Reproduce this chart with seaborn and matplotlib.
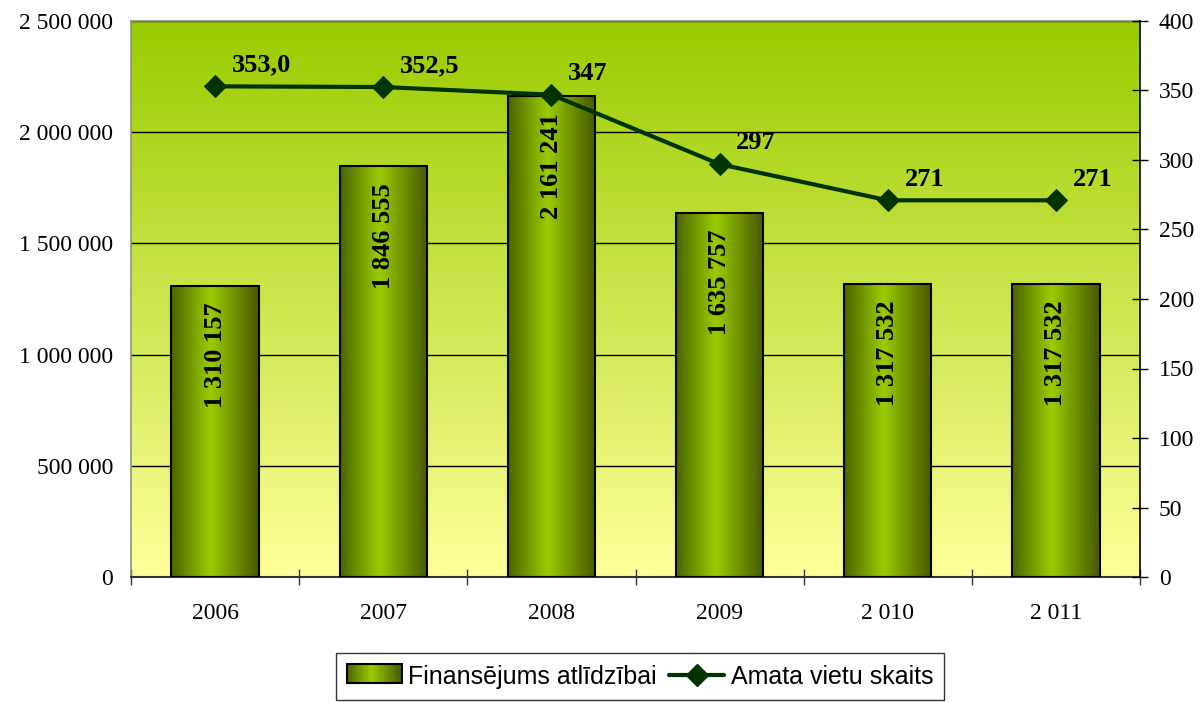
import numpy as np
import pandas as pd
import matplotlib
matplotlib.use('Agg')
import matplotlib.pyplot as plt
import seaborn as sns
from matplotlib.colors import LinearSegmentedColormap
from matplotlib.patches import Rectangle
from matplotlib.lines import Line2D
from matplotlib.legend_handler import HandlerBase


years = ['2006', '2007', '2008', '2009', '2 010', '2 011']
funding = [1310157, 1846555, 2161241, 1635757, 1317532, 1317532]
positions = [353.0, 352.5, 347, 297, 271, 271]
position_labels = ['353,0', '352,5', '347', '297', '271', '271']

left_ticks = [0, 500000, 1000000, 1500000, 2000000, 2500000]
right_ticks = [0, 50, 100, 150, 200, 250, 300, 350, 400]

df = pd.DataFrame({'year': years, 'funding': funding, 'positions': positions})


def spaced(v):
    return f'{v:,}'.replace(',', ' ')


bar_cmap = LinearSegmentedColormap.from_list(
    'bar', [(0, '#4a6400'), (0.45, '#9acc00'), (1, '#465800')])
bg_cmap = LinearSegmentedColormap.from_list('bg', ['#ffff99', '#99cc00'])

sns.set_style('white')
plt.rcParams['font.family'] = ['Liberation Serif', 'DejaVu Serif']
plt.rcParams['text.color'] = 'black'
plt.rcParams['xtick.color'] = 'black'
plt.rcParams['ytick.color'] = 'black'
plt.rcParams['xtick.labelcolor'] = 'black'
plt.rcParams['ytick.labelcolor'] = 'black'

fig = plt.figure(figsize=(12.02, 7.02), dpi=100)
ax = fig.add_axes([131 / 1202, 1 - 577 / 702, 1009 / 1202, 556 / 702])

# background gradient
grad = np.linspace(0, 1, 256).reshape(-1, 1)
ax.imshow(grad, extent=[0, 1, 0, 1], transform=ax.transAxes, aspect='auto',
          cmap=bg_cmap, origin='lower', zorder=0)

sns.barplot(data=df, x='year', y='funding', ax=ax, width=0.52, color='#88b000',
            zorder=2)

hgrad = np.linspace(0, 1, 256).reshape(1, -1)
for p in list(ax.patches):
    x0, y0 = p.get_xy()
    w, h = p.get_width(), p.get_height()
    im = ax.imshow(hgrad, extent=[x0, x0 + w, y0, y0 + h], aspect='auto',
                   cmap=bar_cmap, zorder=2)
    im.set_clip_path(p)
    p.set_facecolor('none')
    p.set_edgecolor('black')
    p.set_linewidth(1.5)
    p.set_zorder(3)

for i, v in enumerate(funding):
    ax.annotate(spaced(v), (i, v), xytext=(0, -12), textcoords='offset points',
                rotation=90, ha='center', va='top', fontsize=19,
                fontweight='bold', zorder=4)

ax.set_xlim(-0.5, 5.5)
ax.set_ylim(0, 2500000)
ax.set_yticks(left_ticks)
ax.set_yticklabels([spaced(t) for t in left_ticks])
ax.set_xticks(range(len(years)))
ax.set_xticklabels(years)
ax.set_xticks(np.arange(-0.5, 6, 1), minor=True)
ax.set_xlabel('')
ax.set_ylabel('')
ax.set_axisbelow(True)
ax.yaxis.grid(True, color='black', linewidth=1)
ax.xaxis.grid(False)
ax.tick_params(axis='x', which='major', length=0, pad=19, labelsize=17)
ax.tick_params(axis='x', which='minor', length=11, width=1, direction='inout',
               color='#333333', bottom=True)
ax.tick_params(axis='y', length=0, pad=13, labelsize=17)
for s in ['left', 'top']:
    ax.spines[s].set_color('#909090')
    ax.spines[s].set_linewidth(1.2)
ax.spines['bottom'].set_color('#333333')
ax.spines['bottom'].set_linewidth(1.5)
ax.spines['right'].set_visible(False)

ax2 = ax.twinx()
sns.lineplot(x=np.arange(len(years)), y=positions, ax=ax2, color='#003300',
             linewidth=3, marker='D', markersize=11, markeredgecolor='#003300',
             zorder=5)
for i, (v, lab) in enumerate(zip(positions, position_labels)):
    ax2.annotate(lab, (i, v), xytext=(12, 7), textcoords='offset points',
                 ha='left', va='bottom', fontsize=19, fontweight='bold')
ax2.set_ylim(0, 400)
ax2.set_yticks(right_ticks)
ax2.set_ylabel('')
ax2.tick_params(axis='y', length=11, width=1, direction='inout', pad=8,
                labelsize=17, color='black')
for s in ['left', 'top', 'bottom']:
    ax2.spines[s].set_visible(False)
ax2.spines['right'].set_color('black')
ax2.spines['right'].set_linewidth(1.2)
ax2.set_xlim(-0.5, 5.5)


class GradientHandler(HandlerBase):
    def create_artists(self, legend, orig, xd, yd, width, height, fontsize, trans):
        arts = []
        n = 24
        for k in range(n):
            arts.append(Rectangle((xd + width * k / n, yd), width / n, height,
                                  facecolor=bar_cmap((k + 0.5) / n),
                                  edgecolor='none', transform=trans))
        arts.append(Rectangle((xd, yd), width, height, facecolor='none',
                              edgecolor='black', linewidth=1.5, transform=trans))
        return arts


bar_handle = Rectangle((0, 0), 1, 1)
line_handle = Line2D([], [], color='#003300', linewidth=3, marker='D',
                     markersize=11)
leg = fig.legend([bar_handle, line_handle],
                 ['Finansējums atlīdzībai', 'Amata vietu skaits'],
                 handler_map={Rectangle: GradientHandler()},
                 loc='lower center', bbox_to_anchor=(640 / 1202, 0.003),
                 ncol=2, frameon=True, fancybox=False, edgecolor='black',
                 prop={'family': 'Liberation Sans', 'size': 18},
                 handlelength=2.2, handleheight=0.8, handletextpad=0.25,
                 columnspacing=0.5, borderpad=0.45, borderaxespad=0.0)
leg.get_frame().set_linewidth(1)

fig.savefig('out.png', dpi=100)
